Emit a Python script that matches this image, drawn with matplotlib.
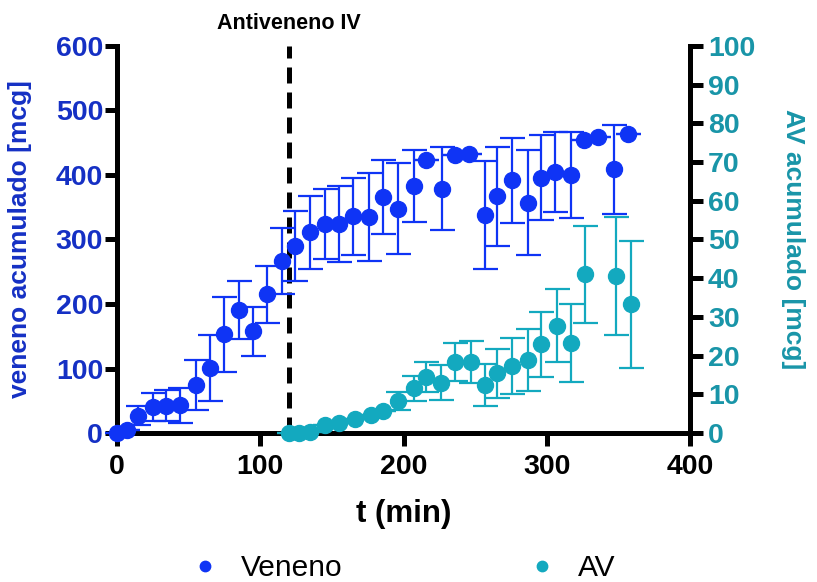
import numpy as np
import matplotlib
matplotlib.use("Agg")
import matplotlib.pyplot as plt

plt.rcParams['font.family'] = ['Liberation Sans', 'DejaVu Sans']

# Veneno (eje izquierdo)
t_ven = [0, 7, 15, 25, 34, 44, 55, 65, 75, 85, 95, 105, 115, 124, 135, 145, 155, 165, 176,
         186, 196, 207, 216, 227, 236, 246, 257, 265, 276, 287, 296, 306, 317, 326, 336, 347, 357]
ven = [0, 4, 27, 40, 42, 43, 74, 101, 153, 191, 158, 215, 267, 290, 311, 324, 324, 336, 335,
       366, 348, 383, 424, 379, 431, 433, 338, 367, 392, 357, 396, 405, 400, 454, 459, 409, 463]
ven_err = [0, 0, 15, 22, 24, 27, 39, 51, 58, 45, 38, 44, 51, 54, 57, 55, 59, 60, 68,
           58, 70, 56, 0, 64, 0, 0, 84, 77, 66, 81, 66, 62, 67, 0, 0, 69, 0]

# AV (eje derecho)
t_av = [120, 127, 135, 145, 155, 166, 177, 186, 196, 207, 216, 226, 236, 247, 257, 265,
        276, 287, 296, 307, 317, 327, 348, 359]
av = [0, 0, 0.3, 2, 2.7, 3.6, 4.6, 5.7, 8.3, 11.5, 14.5, 13, 18.4, 18.4, 12.4, 15.4,
      17.4, 18.9, 22.9, 27.7, 23.3, 41, 40.6, 33.3]
av_err = [0, 0, 0, 0, 0, 0, 0, 0, 2.3, 3.3, 3.8, 4.6, 4.9, 5.4, 5.5, 6.3,
          7.2, 8, 8.3, 9.4, 10.1, 12.5, 15.2, 16.4]

c_ven = '#0F34F5'
c_av = '#13A9BF'
c_ven_txt = '#1530C4'
c_av_txt = '#1995A8'

fig = plt.figure(figsize=(8.17, 5.82), dpi=100)
ax = fig.add_axes([0.1432, 0.256, 0.7014, 0.665])
ax2 = ax.twinx()

# linea de antiveneno
ax.axvline(120, color='black', lw=3.6, ls=(0, (3.2, 1.8)), zorder=1)
ax.text(120, 618, 'Antiveneno IV', ha='center', va='bottom', fontsize=15.5,
        fontweight='bold', color='black')

ax.errorbar(t_ven, ven, yerr=ven_err, fmt='o', color=c_ven, ms=11.5, elinewidth=1.6,
            capsize=9, capthick=1.6, zorder=3, clip_on=False, label='Veneno')
ax2.errorbar(t_av, av, yerr=av_err, fmt='o', color=c_av, ms=11.5, elinewidth=1.6,
             capsize=9, capthick=1.6, zorder=3, clip_on=False, label='AV')

ax.set_xlim(0, 400)
ax.set_ylim(0, 600)
ax2.set_ylim(0, 100)
ax.set_xticks([0, 100, 200, 300, 400])
ax.set_yticks(np.arange(0, 601, 100))
ax2.set_yticks(np.arange(0, 101, 10))

for a in (ax, ax2):
    a.spines['top'].set_visible(False)
    for s in a.spines.values():
        s.set_linewidth(3.6)
    a.tick_params(width=3.6, length=9, labelsize=20.5)
    a.patch.set_visible(False)
ax.spines['right'].set_visible(False)
ax2.spines['left'].set_visible(False)
ax2.spines['bottom'].set_visible(False)

for lab in ax.get_xticklabels():
    lab.set_fontweight('bold')
for lab in ax.get_yticklabels():
    lab.set_fontweight('bold')
    lab.set_color(c_ven_txt)
for lab in ax2.get_yticklabels():
    lab.set_fontweight('bold')
    lab.set_color(c_av_txt)
ax.tick_params(axis='y', pad=1)
ax.tick_params(axis='x', pad=6)
ax2.tick_params(axis='y', pad=4)

ax.set_xlabel('t (min)', fontsize=22.5, fontweight='bold', labelpad=14)
ax.set_ylabel('veneno acumulado [mcg]', fontsize=19, fontweight='bold', color=c_ven_txt, labelpad=17)
ax2.set_ylabel('AV acumulado [mcg]', fontsize=19, fontweight='bold', color=c_av_txt,
               rotation=270, labelpad=36)

h1, l1 = ax.get_legend_handles_labels()
h2, l2 = ax2.get_legend_handles_labels()
h1 = [h[0] for h in h1]
h2 = [h[0] for h in h2]
fig.legend(h1 + h2, l1 + l2, loc='lower center', bbox_to_anchor=(0.491, 0.0), ncol=2,
           frameon=False, fontsize=21.5, markerscale=0.65, columnspacing=6.1,
           handletextpad=0.6, handlelength=1.2, borderpad=0, borderaxespad=0)

fig.savefig('out.png', dpi=100)
